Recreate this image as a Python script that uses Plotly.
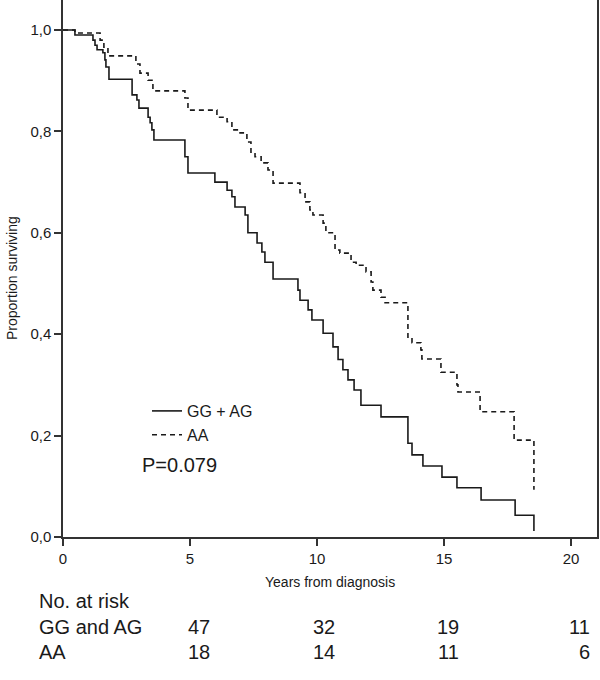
import plotly.graph_objects as go

# ---- data ----
gg_time = [0, 0.47, 1.18, 1.26, 1.34, 1.57, 1.65, 1.69, 1.81, 2.72, 2.91, 2.99, 3.35, 3.43, 3.50, 3.58,
           4.80, 4.92, 5.98, 6.46, 6.65, 6.77, 7.17, 7.28, 7.64, 7.83, 7.95, 8.27, 9.25, 9.33, 9.65,
           9.80, 10.24, 10.63, 10.83, 11.02, 11.22, 11.46, 11.73, 12.52, 13.58, 13.74, 14.17, 14.92,
           15.51, 16.46, 17.80, 18.54]
gg_surv = [1.0, 0.990, 0.980, 0.970, 0.961, 0.955, 0.941, 0.927, 0.903, 0.872, 0.862, 0.846, 0.828,
           0.817, 0.803, 0.783, 0.750, 0.718, 0.700, 0.684, 0.671, 0.651, 0.635, 0.600, 0.580, 0.562,
           0.542, 0.509, 0.487, 0.467, 0.448, 0.428, 0.402, 0.375, 0.350, 0.330, 0.310, 0.290, 0.260,
           0.237, 0.185, 0.162, 0.140, 0.118, 0.097, 0.073, 0.043, 0.012]

aa_time = [0, 0.47, 1.46, 1.61, 1.77, 2.87, 3.03, 3.35, 3.54, 4.80, 4.92, 6.06, 6.46, 6.65, 6.97, 7.24,
           7.40, 7.56, 7.80, 8.07, 8.27, 9.33, 9.53, 9.72, 9.84, 10.24, 10.35, 10.71, 10.90, 11.34,
           11.54, 11.93, 12.13, 12.20, 12.52, 12.68, 13.58, 13.74, 14.09, 14.13, 14.88, 15.51, 15.55,
           16.42, 17.76, 18.54]
aa_surv = [1.0, 0.994, 0.980, 0.966, 0.949, 0.933, 0.915, 0.901, 0.880, 0.866, 0.842, 0.828, 0.819,
           0.803, 0.797, 0.779, 0.759, 0.750, 0.738, 0.724, 0.698, 0.679, 0.661, 0.645, 0.635, 0.619,
           0.600, 0.566, 0.560, 0.542, 0.536, 0.523, 0.503, 0.487, 0.473, 0.462, 0.394, 0.383, 0.369,
           0.351, 0.325, 0.300, 0.286, 0.247, 0.191, 0.093]

series_names = ["GG + AG", "AA"]
x_ticks = [0, 5, 10, 15, 20]
y_ticks = [0.0, 0.2, 0.4, 0.6, 0.8, 1.0]

risk_title = "No. at risk"
risk_groups = ["GG and AG", "AA"]
risk_counts = [[47, 32, 19, 11], [18, 14, 11, 6]]
p_text = "P=0.079"
x_title = "Years from diagnosis"
y_title = "Proportion surviving"

# ---- layout geometry (pixels) ----
W, H = 600, 680
L, R, T, B = 63, 597, 0, 537          # plot area edges
FONT = "Liberation Sans, Arial, sans-serif"
INK = "#1a1a1a"
AXC = "#333333"


def px(xp):
    return (xp - L) / (R - L)


def py(yp):
    return (B - yp) / (B - T)


fig = go.Figure()
fig.add_trace(go.Scatter(x=gg_time, y=gg_surv, mode="lines", line_shape="hv",
                         name=series_names[0], line=dict(color=INK, width=1.6)))
fig.add_trace(go.Scatter(x=aa_time, y=aa_surv, mode="lines", line_shape="hv",
                         name=series_names[1], line=dict(color=INK, width=1.6, dash="5px,4px")))

ann = []
ann.append(dict(x=px(140), y=py(465), xref="paper", yref="paper", text=p_text, showarrow=False,
                xanchor="left", yanchor="middle", font=dict(size=20, color=INK, family=FONT)))
ann.append(dict(x=px(330), y=py(582), xref="paper", yref="paper", text=x_title, showarrow=False,
                xanchor="center", yanchor="middle", font=dict(size=14, color=INK, family=FONT)))
ann.append(dict(x=px(12), y=py(278), xref="paper", yref="paper", text=y_title, showarrow=False,
                textangle=-90, xanchor="center", yanchor="middle",
                font=dict(size=14, color=INK, family=FONT)))
ann.append(dict(x=px(37), y=py(601), xref="paper", yref="paper", text=risk_title, showarrow=False,
                xanchor="left", yanchor="middle", font=dict(size=20, color=INK, family=FONT)))
row_y = [627, 652]
col_x = [212, 337, 461, 592]
for g, yy, counts in zip(risk_groups, row_y, risk_counts):
    ann.append(dict(x=px(37), y=py(yy), xref="paper", yref="paper", text=g, showarrow=False,
                    xanchor="left", yanchor="middle", font=dict(size=20, color=INK, family=FONT)))
    for c, xx in zip(counts, col_x):
        ann.append(dict(x=px(xx), y=py(yy), xref="paper", yref="paper", text=str(c),
                        showarrow=False, xanchor="right", yanchor="middle",
                        font=dict(size=20, color=INK, family=FONT)))

fig.update_layout(
    width=W, height=H,
    margin=dict(l=L, r=W - R, t=T, b=H - B, pad=0),
    paper_bgcolor="white", plot_bgcolor="white",
    separators=", ",
    showlegend=True,
    legend=dict(x=px(147), y=py(394), xanchor="left", yanchor="top",
                bgcolor="rgba(0,0,0,0)", font=dict(size=16, color=INK, family=FONT),
                itemwidth=30, tracegroupgap=0),
    annotations=ann,
    font=dict(family=FONT, color=INK),
)
fig.update_xaxes(range=[0, (R - L) / 25.4], tickvals=x_ticks, ticks="outside", ticklen=7,
                 tickwidth=1.5, tickcolor=AXC, showline=True, linecolor=AXC, linewidth=1.5,
                 showgrid=False, zeroline=False, mirror=False, automargin=False,
                 tickfont=dict(size=15, color=INK, family=FONT))
fig.update_yaxes(range=[0, (B - T) / 507.0], tickvals=y_ticks, tickformat=".1f", ticks="outside",
                 ticklen=7, tickwidth=1.5, tickcolor=AXC, showline=True, linecolor=AXC,
                 linewidth=1.5, showgrid=False, zeroline=False, mirror=True, automargin=False,
                 tickfont=dict(size=15, color=INK, family=FONT))

fig.write_html("out.html", config={"displayModeBar": False},
               post_script="document.body.style.margin='0';document.body.style.overflow='hidden';")
